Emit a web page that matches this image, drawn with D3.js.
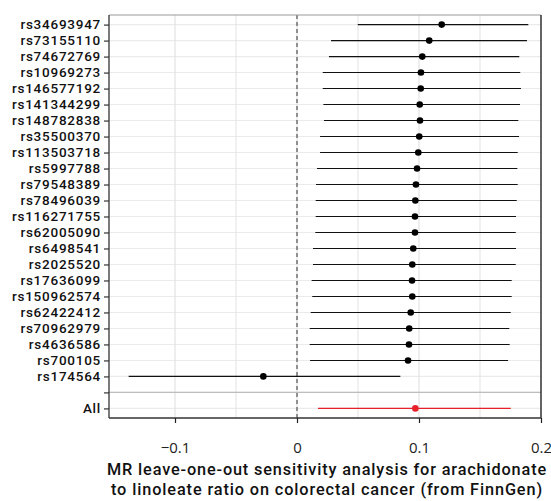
<!DOCTYPE html>
<html><head><meta charset="utf-8">
<script src="https://cdn.jsdelivr.net/npm/d3@7"></script>
<style>body{margin:0;background:#fff}svg{display:block}</style>
</head><body>
<svg id="c" width="551" height="501"></svg>
<script>
const snps = ["rs34693947","rs73155110","rs74672769","rs10969273","rs146577192","rs141344299","rs148782838","rs35500370","rs113503718","rs5997788","rs79548389","rs78496039","rs116271755","rs62005090","rs6498541","rs2025520","rs17636099","rs150962574","rs62422412","rs70962979","rs4636586","rs700105","rs174564"];
const estimates = [0.1186,0.1084,0.1027,0.1016,0.1014,0.1006,0.1008,0.1002,0.0994,0.0984,0.0975,0.0970,0.0967,0.0967,0.0953,0.0945,0.0943,0.0945,0.0932,0.0920,0.0918,0.0910,-0.0276];
const lower = [0.0498,0.0279,0.0262,0.0211,0.0211,0.0216,0.0221,0.0189,0.0189,0.0164,0.0156,0.0153,0.0153,0.0150,0.0131,0.0131,0.0120,0.0125,0.0112,0.0104,0.0104,0.0107,-0.1380];
const upper = [0.1896,0.1885,0.1822,0.1830,0.1836,0.1828,0.1814,0.1820,0.1809,0.1806,0.1809,0.1801,0.1795,0.1793,0.1795,0.1793,0.1760,0.1760,0.1752,0.1740,0.1743,0.1730,0.0847];
const allLabel = "All";
const allEstimate = 0.0970, allLower = 0.0172, allUpper = 0.1752;
const xTicks = [-0.1, 0, 0.1, 0.2];
const xMinor = [-0.05, 0.05, 0.15];
const titleLines = ["MR leave-one-out sensitivity analysis for arachidonate","to linoleate ratio on colorectal cancer (from FinnGen)"];

const svg = d3.select("#c");
const L = 109, R = 541, T = 15, B = 418;
const font = "'Open Sans', Lato, sans-serif";
const cats = [...snps, "", allLabel];
const x = d3.scaleLinear().domain([-0.1, 0.2]).range([175, 541]);
const y = d3.scalePoint().domain(cats).range([T, B]).padding(0.6);

const rows = snps.map((s,i)=>({snp:s, b:estimates[i], lo:lower[i], hi:upper[i]}));
rows.push({snp:allLabel, b:allEstimate, lo:allLower, hi:allUpper, all:true});

const g = svg.append("g");
// grid
g.selectAll(".hg").data(cats).join("line")
  .attr("x1",L).attr("x2",R).attr("y1",d=>y(d)).attr("y2",d=>y(d))
  .attr("stroke","#ebebeb").attr("stroke-width",1.1);
g.selectAll(".vmin").data(xMinor).join("line")
  .attr("x1",d=>x(d)).attr("x2",d=>x(d)).attr("y1",T).attr("y2",B)
  .attr("stroke","#e0e0e0").attr("stroke-width",0.9);
g.selectAll(".vmaj").data(xTicks.filter(v=>x(v)<R-1)).join("line")
  .attr("x1",d=>x(d)).attr("x2",d=>x(d)).attr("y1",T).attr("y2",B)
  .attr("stroke","#e0e0e0").attr("stroke-width",1.1);
// separator line
g.append("line").attr("x1",L).attr("x2",R).attr("y1",y("")).attr("y2",y(""))
  .attr("stroke","#bdbdbd").attr("stroke-width",1.4);
// zero line
g.append("line").attr("x1",x(0)).attr("x2",x(0)).attr("y1",T).attr("y2",B)
  .attr("stroke","#333").attr("stroke-width",1).attr("stroke-dasharray","4,3");
// CIs
g.selectAll(".ci").data(rows).join("line")
  .attr("x1",d=>x(d.lo)).attr("x2",d=>x(d.hi)).attr("y1",d=>y(d.snp)).attr("y2",d=>y(d.snp))
  .attr("stroke",d=>d.all?"#e8202a":"#111").attr("stroke-width",1.1);
g.selectAll(".pt").data(rows).join("circle")
  .attr("cx",d=>x(d.b)).attr("cy",d=>y(d.snp)).attr("r",3.3)
  .attr("fill",d=>d.all?"#e8202a":"#000");
// border
g.append("line").attr("x1",L).attr("x2",R).attr("y1",T).attr("y2",T).attr("stroke","#999").attr("stroke-width",1.2);
g.append("line").attr("x1",R).attr("x2",R).attr("y1",T).attr("y2",B).attr("stroke","#111").attr("stroke-width",1.3);
g.append("line").attr("x1",L).attr("x2",R).attr("y1",B).attr("y2",B).attr("stroke","#333").attr("stroke-width",1.3);
g.append("line").attr("x1",L).attr("x2",L).attr("y1",T).attr("y2",B).attr("stroke","#333").attr("stroke-width",1.3);

// y axis
const ya = svg.append("g").attr("transform",`translate(${L},0)`)
  .call(d3.axisLeft(y).tickSize(5).tickPadding(3));
ya.select(".domain").remove();
ya.selectAll(".tick line").attr("stroke","#333").attr("stroke-width",1.2);
ya.selectAll(".tick text").attr("fill","#111").style("font-family","Roboto, sans-serif")
  .style("font-size","13.5px").style("font-weight","500").style("letter-spacing","0.75px");

// x axis
const xa = svg.append("g").attr("transform",`translate(0,${B})`)
  .call(d3.axisBottom(x).tickValues(xTicks).tickSize(5).tickPadding(19).tickFormat(d=>d===0?"0":d3.format("")(d).replace("-","\u2212")));
xa.select(".domain").remove();
xa.selectAll(".tick line").attr("stroke","#222").attr("stroke-width",1.2);
xa.selectAll(".tick text").attr("fill","#222").style("font-family",font).style("font-size","15px");

// title (two lines)
const titleCx = 327, targetW = [440, 432];
titleLines.forEach((t,i)=>{
  const el = svg.append("text").attr("x",titleCx).attr("y",475 + i*20).attr("text-anchor","middle")
    .style("font-family","Roboto, sans-serif").style("font-size","16.3px").style("font-weight","500")
    .attr("fill","#111").text(t);
  const w = el.node().getComputedTextLength();
  const ls = (targetW[i]-w)/t.length;
  el.style("letter-spacing", ls+"px");
});
</script>
</body></html>
